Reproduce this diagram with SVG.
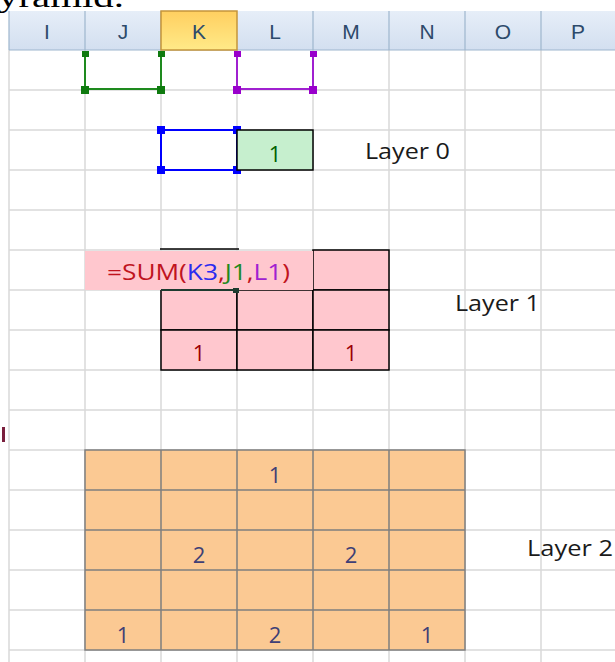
<svg xmlns="http://www.w3.org/2000/svg" width="615" height="662" viewBox="0 0 615 662">
<defs>
<linearGradient id="hdr" x1="0" y1="0" x2="0" y2="1"><stop offset="0" stop-color="#e6eef8"/><stop offset="1" stop-color="#d3dff0"/></linearGradient>
<linearGradient id="hdrK" x1="0" y1="0" x2="0" y2="1"><stop offset="0" stop-color="#ffcf60"/><stop offset="1" stop-color="#ffea88"/></linearGradient>
</defs>
<style>
.grid{stroke:#d9d9d9;stroke-width:1.5;fill:none}
.hsep{stroke:#9eb6ce;stroke-width:1.2}
.hl{font-family:"Liberation Sans",Arial,sans-serif;font-size:21px;fill:#2d4a6b;text-anchor:middle}
.lbl{font-family:"Open Sans","Liberation Sans",Arial,sans-serif;font-size:22px;fill:#1a1a1a}
.num{font-family:"Open Sans","Liberation Sans",Arial,sans-serif;font-size:22px;text-anchor:middle}
.pk{fill:#ffc7ce;stroke:#000;stroke-width:1.5}
</style>
<rect width="615" height="662" fill="#fff"/>
<text x="-2" y="7" font-family="Liberation Serif,serif" font-size="30" fill="#000" textLength="126" lengthAdjust="spacingAndGlyphs">yramid.</text>
<g id="gridlines" class="grid">
<path d="M9 50V662M85 50V662M161 50V662M237 50V662M313 50V662M389 50V662M465 50V662M541 50V662"/>
<path d="M9 90H615M9 130H615M9 170H615M9 210H615M9 250H615M9 290H615M9 330H615M9 370H615M9 410H615M9 450H615M9 490H615M9 530H615M9 570H615M9 610H615M9 650H615"/>
</g>
<g id="header">
<rect x="9" y="11" width="606" height="39" fill="url(#hdr)"/>
<g class="hsep"><path d="M85 11V50M161 11V50M313 11V50M389 11V50M465 11V50M541 11V50M9 50H615M9 11V50"/></g>
<rect x="161" y="11" width="76" height="39" fill="url(#hdrK)" stroke="#c5953b" stroke-width="1.5"/>
<text class="hl" x="47" y="39">I</text>
<text class="hl" x="123" y="39">J</text>
<text class="hl" x="199" y="39">K</text>
<text class="hl" x="275" y="39">L</text>
<text class="hl" x="351" y="39">M</text>
<text class="hl" x="427" y="39">N</text>
<text class="hl" x="503" y="39">O</text>
<text class="hl" x="578" y="39">P</text>
</g>
<g id="ref-J1">
<path d="M85 51V89H161V51" fill="none" stroke="#1e8a1e" stroke-width="2"/>
<g fill="#0f7a0f"><rect x="82" y="51" width="7" height="6"/><rect x="158" y="51" width="7" height="6"/><rect x="81" y="86" width="8" height="8"/><rect x="157" y="86" width="8" height="8"/></g>
</g>
<g id="ref-L1">
<path d="M237 51V89H313V51" fill="none" stroke="#a020d0" stroke-width="2"/>
<g fill="#9900cc"><rect x="234" y="51" width="7" height="6"/><rect x="310" y="51" width="7" height="6"/><rect x="233" y="86" width="8" height="8"/><rect x="309" y="86" width="8" height="8"/></g>
</g>
<g id="ref-K3">
<rect x="161" y="130" width="76" height="40" fill="#fff" stroke="#0000ff" stroke-width="2"/>
<g fill="#0000ff"><rect x="157" y="126" width="8" height="8"/><rect x="233" y="126" width="8" height="8"/><rect x="157" y="166" width="8" height="8"/><rect x="233" y="166" width="8" height="8"/></g>
</g>
<g id="cell-L3">
<rect x="237" y="130" width="76" height="40" fill="#c6efce" stroke="#000" stroke-width="1.5"/>
<text class="num" x="275" y="162" fill="#006100">1</text>
</g>
<g id="label-0"><text class="lbl" x="365" y="159" textLength="85" lengthAdjust="spacingAndGlyphs">Layer 0</text></g>
<g id="layer1">
<rect class="pk" x="313" y="250" width="76" height="40"/>
<rect class="pk" x="161" y="290" width="76" height="40"/>
<rect class="pk" x="237" y="290" width="76" height="40"/>
<rect class="pk" x="313" y="290" width="76" height="40"/>
<rect class="pk" x="161" y="330" width="76" height="40"/>
<rect class="pk" x="237" y="330" width="76" height="40"/>
<rect class="pk" x="313" y="330" width="76" height="40"/>
<rect x="85" y="251" width="228" height="39" fill="#ffc7ce"/>
<path d="M160 249H239" stroke="#000" stroke-width="1.5"/>
<path d="M161 290H233" stroke="#1d3b2f" stroke-width="2"/>
<rect x="233" y="288" width="6" height="5" fill="#1d3b2f"/>
<text x="107" y="280" font-family="Open Sans,Liberation Sans,Arial,sans-serif" font-size="22" textLength="183" lengthAdjust="spacingAndGlyphs"><tspan fill="#c0141e">=SUM(</tspan><tspan fill="#2a2af0">K3</tspan><tspan fill="#c0141e">,</tspan><tspan fill="#1e8a1e">J1</tspan><tspan fill="#c0141e">,</tspan><tspan fill="#a020d0">L1</tspan><tspan fill="#c0141e">)</tspan></text>
<text class="num" x="199" y="361" fill="#9c0006">1</text>
<text class="num" x="351" y="361" fill="#9c0006">1</text>
</g>
<g id="label-1"><text class="lbl" x="455" y="311" textLength="85" lengthAdjust="spacingAndGlyphs">Layer 1</text></g>
<rect x="2" y="427" width="3" height="15" fill="#7a1f3d"/>
<g id="layer2">
<rect x="85" y="450" width="380" height="200" fill="#fbc993"/>
<path d="M85 450H465V650H85ZM161 450V650M237 450V650M313 450V650M389 450V650M85 490H465M85 530H465M85 570H465M85 610H465" fill="none" stroke="#7f7f7f" stroke-width="1.5"/>
<g fill="#3f3f76">
<text class="num" x="275" y="483">1</text>
<text class="num" x="199" y="563">2</text>
<text class="num" x="351" y="563">2</text>
<text class="num" x="123" y="643">1</text>
<text class="num" x="275" y="643">2</text>
<text class="num" x="427" y="643">1</text>
</g>
</g>
<g id="label-2"><text class="lbl" x="527" y="556" textLength="86" lengthAdjust="spacingAndGlyphs">Layer 2</text></g>
</svg>
